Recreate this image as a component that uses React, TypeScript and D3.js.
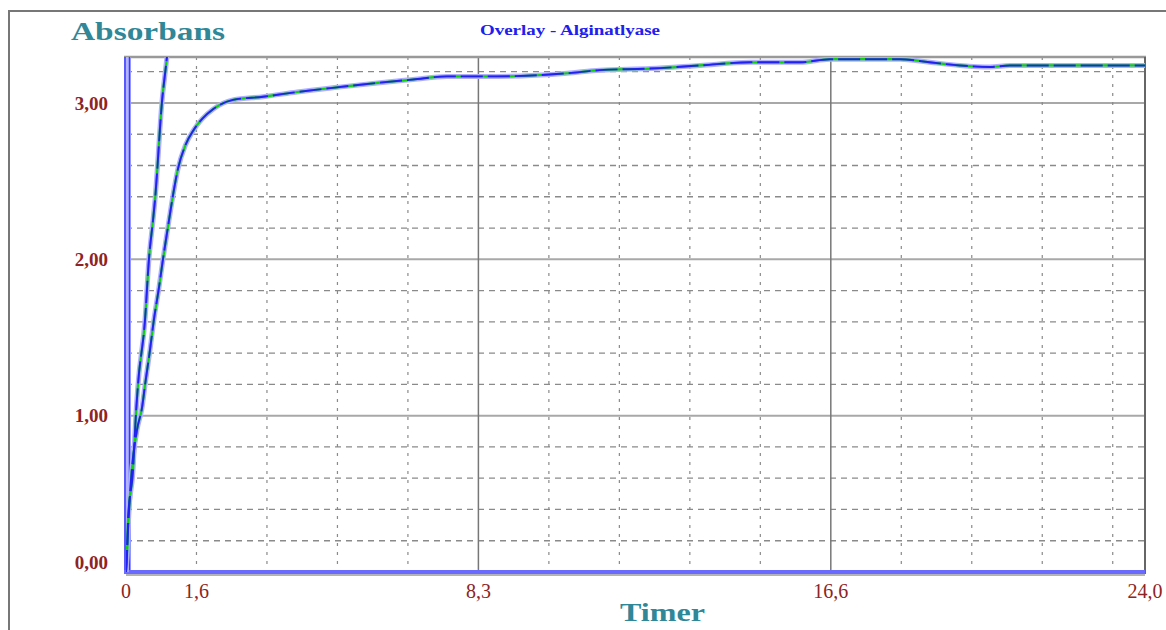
import React from "react";
import * as d3 from "d3";

// Absorbance kinetics, two overlaid runs per sample
const timeFast = [0, 0.024, 0.047, 0.165, 0.236, 0.283, 0.447, 0.54, 0.636, 0.683, 0.848, 0.966, 1.0];
const absFast = [0, 0.11, 0.33, 0.65, 1.02, 1.2, 1.61, 2.0, 2.25, 2.38, 3.01, 3.3, 3.4];

const timeSlow = [
  0, 0.047, 0.118, 0.26, 0.377, 0.45, 0.565, 0.65, 0.777, 0.86, 1.013, 1.107, 1.225, 1.4, 1.6,
  1.8, 2.05, 2.52, 3.23, 4.03, 4.97, 5.98, 6.76, 7.56, 8.74, 10.39, 11.16, 12.34, 13.52, 14.7,
  15.87, 16.58, 18.23, 18.93, 19.64, 20.35, 20.82, 22.5, 24.0,
];
const absSlow = [
  0, 0.27, 0.59, 0.91, 1.05, 1.2, 1.42, 1.6, 1.82, 1.98, 2.25, 2.41, 2.58, 2.73, 2.83, 2.9, 2.96,
  3.02, 3.04, 3.07, 3.1, 3.13, 3.15, 3.17, 3.17, 3.19, 3.21, 3.22, 3.24, 3.26, 3.26, 3.28, 3.28,
  3.26, 3.24, 3.23, 3.24, 3.24, 3.24,
];

const yMajorTicks = [0, 1, 2, 3];
const yLabels = ["0,00", "1,00", "2,00", "3,00"];
const xLabelValues = [0, 1.66, 8.3, 16.6, 24.0];
const xLabels = ["0", "1,6", "8,3", "16,6", "24,0"];
const xSolidGrid = [8.3, 16.6];

const W = 1166;
const H = 630;
const plot = { left: 126, right: 1145, top: 57, bottom: 572 };

export default function App() {
  const x = d3.scaleLinear().domain([0, 24]).range([plot.left, plot.right]);
  const y = d3.scaleLinear().domain([0, 3.294]).range([plot.bottom, plot.top]);

  const minorY = d3.range(1, 17).map((i) => i * 0.2).filter((v) => Math.abs(v - Math.round(v)) > 1e-6);
  const dashedX = d3.range(1, 15).map((i) => i * 1.66).filter((v) => v < 24 && Math.abs(v - 8.3) > 1e-6 && Math.abs(v - 16.6) > 1e-6);

  const line = d3
    .line<[number, number]>()
    .x((d) => x(d[0]))
    .y((d) => y(d[1]))
    .curve(d3.curveMonotoneX);

  const fast = line(timeFast.map((t, i) => [t, absFast[i]] as [number, number])) || "";
  const slow = line(timeSlow.map((t, i) => [t, absSlow[i]] as [number, number])) || "";

  const serif = "'Liberation Serif', 'DejaVu Serif', serif";
  const red = "#8e2424";
  const teal = "#2f8797";

  return (
    <svg
      width={W}
      height={H}
      style={{ position: "absolute", left: 0, top: 0, background: "#fff" }}
      fontFamily={serif}
    >
      <defs>
        <clipPath id="plotClip">
          <rect x={plot.left} y={plot.top} width={plot.right - plot.left} height={plot.bottom - plot.top + 2} />
        </clipPath>
      </defs>
      <rect x={0} y={0} width={W} height={H} fill="#fff" />

      {/* outer window frame */}
      <line x1={8} x2={W} y1={11} y2={11} stroke="#777" strokeWidth={2} />
      <line x1={9} x2={9} y1={11} y2={H} stroke="#777" strokeWidth={2} />

      {/* minor horizontal grid */}
      {minorY.map((v) => (
        <line key={"my" + v} x1={plot.left} x2={plot.right} y1={y(v)} y2={y(v)} stroke="#8a8a8a" strokeWidth={1.3} strokeDasharray="6 5" />
      ))}
      {/* major horizontal grid */}
      {yMajorTicks.slice(1).map((v) => (
        <line key={"My" + v} x1={plot.left} x2={plot.right} y1={y(v)} y2={y(v)} stroke="#a8a8a8" strokeWidth={2} />
      ))}
      {/* vertical grid */}
      {dashedX.map((v) => (
        <line key={"dx" + v} x1={x(v)} x2={x(v)} y1={plot.top} y2={plot.bottom} stroke="#8a8a8a" strokeWidth={1.2} strokeDasharray="3 6" />
      ))}
      {xSolidGrid.map((v) => (
        <line key={"sx" + v} x1={x(v)} x2={x(v)} y1={plot.top} y2={plot.bottom} stroke="#777" strokeWidth={1.5} />
      ))}

      {/* plot frame */}
      <line x1={plot.left - 2} x2={plot.right + 1} y1={plot.top} y2={plot.top} stroke="#999" strokeWidth={2.5} />
      <line x1={plot.right} x2={plot.right} y1={plot.top} y2={plot.bottom + 2} stroke="#666" strokeWidth={2} />
      <line x1={plot.left} x2={plot.right} y1={plot.bottom + 3} y2={plot.bottom + 3} stroke="#9a9a9a" strokeWidth={1.5} />

      {/* baseline traces along the axes */}
      <rect x={plot.left - 2} y={plot.top} width={7} height={plot.bottom - plot.top + 2} fill="#b4b4ff" />
      <line x1={plot.left - 1} x2={plot.left - 1} y1={plot.top} y2={plot.bottom + 2} stroke="#3a3aff" strokeWidth={1.5} />
      <line x1={plot.left + 3.5} x2={plot.left + 3.5} y1={plot.top} y2={plot.bottom + 2} stroke="#3a3aff" strokeWidth={1.5} />
      <rect x={plot.left - 2} y={plot.bottom - 2} width={plot.right - plot.left + 2} height={4} fill="#6a6aff" />

      {/* curves */}
      <g clipPath="url(#plotClip)" fill="none" strokeLinejoin="round">
        <path d={slow} stroke="#b0b0ff" strokeWidth={5} />
        <path d={fast} stroke="#b0b0ff" strokeWidth={5} />
        <path d={slow} stroke="#10d010" strokeWidth={2.2} />
        <path d={fast} stroke="#10d010" strokeWidth={2.2} />
        <path d={slow} stroke="#2222f0" strokeWidth={1.9} strokeDasharray="22 5" />
        <path d={fast} stroke="#2222f0" strokeWidth={1.9} strokeDasharray="22 5" />
      </g>

      {/* y-axis labels */}
      {yMajorTicks.map((v, i) => (
        <text
          key={"yl" + v}
          x={108}
          y={v === 0 ? y(v) - 10 : y(v)}
          dy="0.35em"
          textAnchor="end"
          fill={red}
          fontWeight="bold"
          fontSize={19}
        >
          {yLabels[i]}
        </text>
      ))}
      {/* x-axis labels */}
      {xLabelValues.map((v, i) => (
        <text key={"xl" + v} x={x(v)} y={598} textAnchor="middle" fill={red} fontSize={20}>
          {xLabels[i]}
        </text>
      ))}

      {/* titles */}
      <text x={71} y={40} fill={teal} fontWeight="bold" fontSize={25} textLength={154} lengthAdjust="spacingAndGlyphs">
        Absorbans
      </text>
      <text x={620} y={621} fill={teal} fontWeight="bold" fontSize={26} textLength={85} lengthAdjust="spacingAndGlyphs">
        Timer
      </text>
      <text x={480} y={35} fill="#2020ee" fontWeight="bold" fontSize={14} textLength={180} lengthAdjust="spacingAndGlyphs">
        Overlay - Alginatlyase
      </text>
    </svg>
  );
}
